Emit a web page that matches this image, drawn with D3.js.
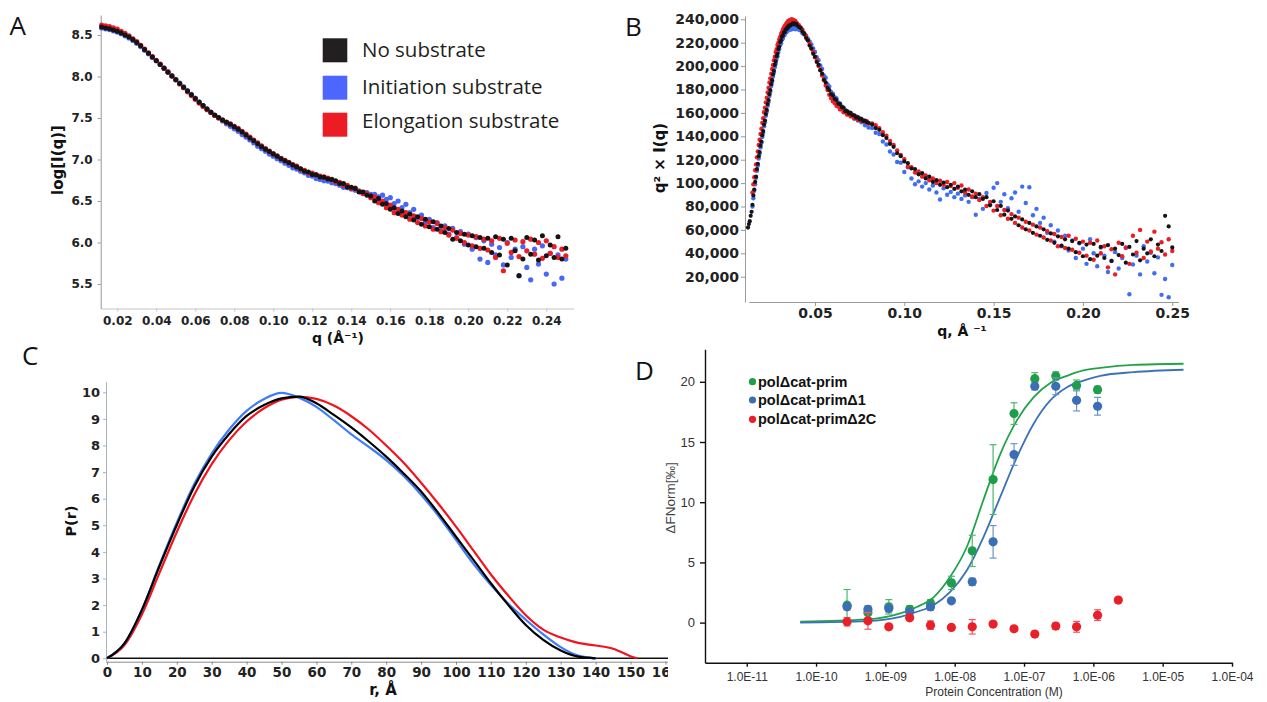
<!DOCTYPE html>
<html>
<head>
<meta charset="utf-8">
<script src="https://cdn.jsdelivr.net/npm/d3@7"></script>
<style>
  body { margin: 0; background: #fff; }
  svg { display: block; }
</style>
</head>
<body>
<svg id="fig" width="1267" height="702"></svg>
<script>
// ---------- Panel A: log[I(q)] vs q ----------
const qA = [
  0.012,0.014,0.016,0.018,0.020,0.022,0.024,0.026,0.028,0.030,
  0.032,0.034,0.036,0.038,0.040,0.042,0.044,0.046,0.048,0.050,
  0.052,0.054,0.056,0.058,0.060,0.062,0.064,0.066,0.068,0.070,
  0.072,0.074,0.076,0.078,0.080,0.082,0.084,0.086,0.088,0.090,
  0.092,0.094,0.096,0.098,0.100,0.102,0.104,0.106,0.108,0.110,
  0.112,0.114,0.116,0.118,0.120,0.122,0.124,0.126,0.128,0.130,
  0.132,0.134,0.136,0.138,0.140,0.142,0.144,0.146,0.148,0.150,
  0.152,0.154,0.156,0.158,0.160,0.162,0.164,0.166,0.168,0.170,
  0.172,0.174,0.176,0.178,0.180,0.182,0.184,0.186,0.188,0.190,
  0.192,0.194,0.196,0.198,0.200,0.202,0.204,0.206,0.208,0.210,
  0.212,0.214,0.216,0.218,0.220,0.222,0.224,0.226,0.228,0.230,
  0.232,0.234,0.236,0.238,0.240,0.242,0.244,0.246,0.248,0.250
];
const logINone = [
  8.595,8.585,8.575,8.56,8.545,8.525,8.50,8.475,8.445,8.41,
  8.37,8.325,8.28,8.235,8.19,8.145,8.10,8.05,8.005,7.96,
  7.915,7.87,7.825,7.78,7.735,7.69,7.65,7.61,7.57,7.535,
  7.505,7.475,7.45,7.425,7.395,7.365,7.33,7.295,7.26,7.225,
  7.19,7.155,7.125,7.095,7.065,7.04,7.01,6.985,6.96,6.935,
  6.91,6.89,6.86,6.85,6.82,6.815,6.79,6.785,6.765,6.76,
  6.745,6.71,6.71,6.67,6.665,6.65,6.61,6.61,6.57,6.56,
  6.50,6.53,6.46,6.47,6.40,6.42,6.35,6.38,6.31,6.34,
  6.27,6.31,6.22,6.28,6.19,6.25,6.16,6.20,6.12,6.17,
  6.04,6.12,6.02,6.10,5.97,6.08,5.95,6.06,5.93,6.05,
  5.88,6.07,5.85,6.04,5.73,6.05,5.90,5.60,5.80,6.06,
  5.86,6.03,5.79,6.08,5.84,5.97,5.82,6.07,5.80,5.93
];
const logIInit = [
  8.585,8.575,8.565,8.55,8.535,8.515,8.49,8.465,8.435,8.40,
  8.36,8.315,8.275,8.23,8.19,8.145,8.10,8.055,8.01,7.965,
  7.92,7.875,7.83,7.785,7.74,7.695,7.65,7.61,7.57,7.53,
  7.50,7.465,7.43,7.40,7.37,7.34,7.30,7.27,7.235,7.20,
  7.16,7.13,7.10,7.065,7.04,7.01,6.985,6.955,6.93,6.90,
  6.885,6.86,6.84,6.81,6.80,6.77,6.76,6.745,6.74,6.72,
  6.71,6.69,6.665,6.66,6.645,6.63,6.62,6.60,6.60,6.58,
  6.58,6.55,6.57,6.52,6.54,6.47,6.50,6.42,6.46,6.36,
  6.40,6.30,6.33,6.25,6.28,6.18,6.24,6.14,6.20,6.10,
  6.17,6.06,6.13,5.98,6.10,5.92,6.06,5.80,6.02,5.76,
  5.98,5.85,5.94,5.73,6.00,5.82,5.92,5.60,5.95,5.70,
  5.55,5.92,5.74,5.96,5.62,5.87,5.50,5.85,5.57,5.80
];
const logIElong = [
  8.62,8.61,8.60,8.585,8.57,8.545,8.52,8.49,8.455,8.42,
  8.375,8.33,8.285,8.24,8.195,8.15,8.10,8.055,8.005,7.96,
  7.91,7.865,7.815,7.77,7.725,7.68,7.64,7.60,7.565,7.53,
  7.50,7.475,7.45,7.43,7.40,7.375,7.34,7.305,7.27,7.235,
  7.20,7.165,7.13,7.10,7.07,7.045,7.015,6.99,6.965,6.94,
  6.92,6.885,6.87,6.84,6.835,6.815,6.80,6.79,6.775,6.76,
  6.73,6.725,6.69,6.69,6.65,6.655,6.62,6.59,6.59,6.54,
  6.55,6.48,6.50,6.42,6.45,6.36,6.40,6.33,6.36,6.28,
  6.32,6.24,6.29,6.20,6.25,6.16,6.23,6.13,6.18,6.09,
  6.15,6.05,6.11,6.00,6.09,5.96,6.07,5.93,6.04,5.91,
  6.02,5.82,6.05,5.66,5.99,5.88,6.03,5.83,6.01,5.90,
  6.04,5.86,6.00,5.81,6.02,5.87,5.95,5.82,5.92,5.84
];
const ticksAx = [0.02,0.04,0.06,0.08,0.10,0.12,0.14,0.16,0.18,0.20,0.22,0.24];
const ticksAy = [5.5,6.0,6.5,7.0,7.5,8.0,8.5];
const legendA = ["No substrate", "Initiation substrate", "Elongation substrate"];

// ---------- Panel B: Kratky plot, q² × I(q) (values in thousands) ----------
const qB = [
  0.0125,0.0130,0.0135,0.0140,0.0145,0.0150,0.0155,0.0160,0.0165,0.0170,
  0.0175,0.0180,0.0185,0.0190,0.0195,0.0200,0.0205,0.0210,0.0215,0.0220,
  0.0225,0.0230,0.0235,0.0240,0.0245,0.0250,0.0255,0.0260,0.0265,0.0270,
  0.0275,0.0280,0.0285,0.0290,0.0295,0.0300,0.0305,0.0310,0.0315,0.0320,
  0.0325,0.0330,0.0335,0.0340,0.0345,0.0350,0.0355,0.0360,0.0365,0.0370,
  0.0375,0.0380,0.0385,0.0390,0.0395,0.0400,
  0.041,0.042,0.043,0.044,0.045,0.046,0.047,0.048,0.049,0.050,
  0.051,0.052,0.053,0.054,0.055,0.056,0.057,0.058,0.059,0.060,
  0.061,0.062,0.063,0.064,0.065,0.066,0.067,0.068,0.069,0.070,
  0.071,0.072,0.073,0.074,0.075,0.076,0.077,0.078,0.079,0.080,
  0.082,0.084,0.086,0.088,0.090,0.092,0.094,0.096,0.098,0.100,
  0.102,0.104,0.106,0.108,0.110,0.112,0.114,0.116,0.118,0.120,
  0.122,0.124,0.126,0.128,0.130,0.132,0.134,0.136,0.138,0.140,
  0.142,0.144,0.146,0.148,0.150,0.152,0.154,0.156,0.158,0.160,
  0.162,0.164,0.166,0.168,0.170,0.172,0.174,0.176,0.178,0.180,
  0.182,0.184,0.186,0.188,0.190,0.192,0.194,0.196,0.198,0.200,
  0.202,0.204,0.206,0.208,0.210,0.212,0.214,0.216,0.218,0.220,
  0.222,0.224,0.226,0.228,0.230,0.232,0.234,0.236,0.238,0.240,
  0.242,0.244,0.246,0.248,0.250
];
const kratkyNone = [
  62.0,65.0,67.5,72.0,75.5,81.5,89.5,94.5,101.0,105.5,
  112.0,116.5,123.0,126.5,132.0,135.5,141.0,144.5,150.0,153.5,
  159.0,162.5,167.5,171.0,176.0,179.5,184.5,188.0,193.0,196.0,
  201.0,204.0,208.5,210.5,214.5,216.5,220.5,222.0,225.0,226.0,
  228.5,229.0,231.0,231.5,233.0,233.0,234.5,234.5,235.5,235.5,
  236.5,235.8,236.5,235.6,236.0,234.8,
  233.5,232.5,229.5,227.5,224.0,222.0,217.5,215.0,210.5,208.0,
  203.5,201.0,196.5,193.5,188.5,186.0,181.5,179.5,176.0,175.0,
  172.0,171.0,168.0,167.5,165.0,164.5,161.5,161.5,159.5,160.0,
  158.0,158.0,156.0,156.5,154.5,155.0,153.0,153.5,152.0,151.5,
  150.0,147.0,145.5,141.0,138.5,133.5,131.0,125.5,123.0,118.5,
  117.0,112.5,112.0,107.5,108.5,104.0,105.5,101.0,102.5,98.5,
  100.5,96.5,98.5,95.0,97.0,93.0,94.5,90.0,93.0,88.0,
  90.5,86.5,88.0,81.0,84.5,77.0,80.5,73.0,76.5,69.5,
  71.5,64.0,69.0,60.5,66.0,57.5,63.0,55.0,60.5,51.5,
  57.0,49.0,54.5,46.5,52.0,44.0,50.5,41.0,49.0,37.5,
  47.5,35.0,48.0,38.0,45.5,36.0,47.0,33.5,44.0,38.5,
  48.0,32.0,45.5,39.0,50.5,34.0,44.0,40.0,52.0,37.5,
  47.5,42.0,72.0,63.0,45.0
];
const kratkyInit = [
  null,null,null,null,null,80.0,87.0,93.5,99.0,104.5,
  110.5,115.0,121.0,125.0,130.5,134.5,139.5,143.0,148.5,152.0,
  157.5,161.0,166.0,169.5,174.5,178.0,183.0,186.5,191.0,194.5,
  199.0,202.0,206.0,208.5,212.0,214.5,218.0,219.5,222.5,223.5,
  226.0,226.5,228.5,229.0,230.5,230.5,232.0,231.0,233.0,231.5,
  234.0,232.0,238.5,231.5,234.0,232.5,
  231.0,230.5,228.0,227.0,226.0,223.5,221.0,218.5,215.0,212.0,
  207.5,205.0,200.5,197.5,192.0,190.0,184.5,182.5,178.0,176.5,
  173.5,172.5,169.0,168.0,165.5,163.5,162.5,160.0,160.5,157.5,
  158.5,155.0,157.0,153.5,155.5,152.0,153.0,149.5,152.0,147.5,
  147.0,143.0,142.0,135.5,133.0,127.0,124.5,118.0,117.5,109.5,
  113.5,104.0,99.0,101.5,97.0,100.0,94.5,98.0,92.0,86.0,
  95.5,90.0,92.5,88.0,91.0,86.5,89.5,84.0,88.0,73.0,
  86.5,78.0,91.5,82.0,96.0,100.0,84.0,90.5,78.5,87.0,
  92.0,75.5,97.0,83.0,96.5,72.5,78.0,66.0,70.5,57.5,
  64.0,50.0,59.5,46.0,55.0,42.5,51.0,36.0,48.5,44.0,
  31.0,52.0,40.0,29.0,45.0,38.0,24.0,33.5,41.0,27.0,
  36.0,44.5,5.0,30.5,38.0,22.0,46.0,33.0,40.5,23.0,
  36.5,4.5,18.0,2.5,30.0
];
const kratkyElong = [
  null,null,null,null,null,92.0,99.0,105.0,111.0,116.0,
  122.0,127.0,132.5,137.0,142.0,146.5,151.5,155.5,160.5,164.5,
  169.0,173.0,177.5,181.5,186.0,189.5,193.5,197.5,201.0,205.0,
  208.0,212.0,214.5,218.0,220.0,223.0,225.0,227.5,229.0,231.0,
  232.5,234.0,235.0,236.5,237.0,238.5,238.5,239.5,239.5,240.0,
  239.0,239.5,238.5,238.5,237.0,236.5,
  235.0,233.0,231.0,228.0,225.5,222.0,219.0,215.0,212.0,207.5,
  204.5,200.0,196.5,192.0,188.0,183.5,179.5,175.5,172.5,170.0,
  168.5,166.0,165.5,163.0,163.0,160.5,160.5,158.5,159.0,157.0,
  157.5,155.5,156.0,154.0,154.5,153.0,153.5,152.5,153.0,151.0,
  151.0,149.5,147.0,143.5,140.5,136.0,132.5,128.0,124.0,120.5,
  114.0,113.5,109.0,110.0,105.5,106.5,102.5,104.0,100.0,102.0,
  98.5,101.0,97.5,100.0,96.0,98.0,92.0,94.5,88.5,91.0,
  85.5,88.0,80.5,84.0,76.5,80.5,72.5,77.0,69.5,73.5,
  66.0,70.5,62.0,67.0,59.5,64.5,56.0,62.0,53.5,59.0,
  51.0,56.5,46.0,54.0,44.5,55.0,43.0,52.5,40.5,50.0,
  38.0,49.0,34.5,51.0,40.0,46.0,28.0,43.5,22.0,49.0,
  37.5,45.0,31.0,55.0,40.5,60.0,36.0,50.0,41.5,58.5,
  44.0,49.5,39.0,52.0,42.0
];
const ticksBx = [0.05,0.10,0.15,0.20,0.25];
const ticksBy = [20,40,60,80,100,120,140,160,180,200,220,240];

// ---------- Panel C: P(r) distance distribution ----------
const rC = [0,5,10,15,20,25,30,35,40,45,50,55,60,65,70,75,80,85,90,95,100,105,110,115,120,125,130,135,140,145,150,152];
const prNone = [0,0.56,1.82,3.45,5.01,6.45,7.58,8.43,9.11,9.52,9.77,9.84,9.59,9.15,8.68,8.15,7.58,6.95,6.27,5.45,4.57,3.70,2.82,2.0,1.25,0.69,0.29,0.06,0,null,null,null];
const prInit = [0,0.56,1.82,3.5,5.1,6.55,7.7,8.6,9.3,9.75,9.98,9.8,9.45,8.95,8.42,7.95,7.45,6.85,6.15,5.35,4.45,3.55,2.75,2.05,1.45,0.9,0.42,0.1,0,null,null,null];
const prElong = [0,0.5,1.65,3.2,4.75,6.15,7.3,8.2,8.9,9.4,9.72,9.83,9.75,9.5,9.1,8.6,8.0,7.35,6.6,5.8,4.95,4.05,3.15,2.35,1.62,1.08,0.78,0.58,0.48,0.36,0.08,0];
const ticksCx = [0,10,20,30,40,50,60,70,80,90,100,110,120,130,140,150,160];
const ticksCy = [0,1,2,3,4,5,6,7,8,9,10];

// ---------- Panel D: MST binding ----------
const concD = [2.8e-10,5.6e-10,1.12e-9,2.24e-9,4.48e-9,8.96e-9,1.79e-8,3.58e-8,7.17e-8,1.43e-7,2.87e-7,5.73e-7,1.15e-6,2.29e-6];
const primVal = [1.45,0.82,1.31,1.1,1.6,3.3,5.96,11.88,17.36,20.26,20.48,19.7,19.35,null];
const primErr = [1.3,0.45,0.6,0.3,0.3,0.55,1.3,2.9,0.9,0.5,0.35,0.45,0.28,null];
const d1Val = [1.31,1.1,1.18,0.9,1.31,1.81,3.39,6.71,13.96,19.63,19.63,18.46,17.97,null];
const d1Err = [0.25,0.3,0.3,0.25,0.3,0.15,0.3,1.35,0.9,0.3,0.7,0.88,0.74,null];
const d2cVal = [0.07,0.15,-0.35,0.4,-0.21,-0.4,-0.35,-0.12,-0.51,-0.95,-0.29,-0.35,0.62,1.87];
const d2cErr = [0.35,0.7,0.15,0.2,0.35,0.15,0.6,0.2,0.15,0.2,0.25,0.45,0.45,0.2];
const fitConc = [5.9e-11,5.4e-10,1.64e-9,2.85e-9,4.95e-9,8.6e-9,1.5e-8,2.6e-8,4.54e-8,7.9e-8,1.37e-7,2.39e-7,4.16e-7,7.2e-7,1.26e-6,3.8e-6,2.0e-5];
const fitPrim = [0.07,0.26,0.76,1.3,2.1,3.8,6.3,10.2,14.0,16.8,18.7,19.9,20.5,20.95,21.15,21.4,21.5];
const fitD1 = [0.0,0.12,0.48,0.9,1.45,2.55,4.35,7.1,10.45,13.75,16.5,18.45,19.55,20.1,20.5,20.8,21.0];
const ticksDx = [1e-11,1e-10,1e-9,1e-8,1e-7,1e-6,1e-5,1e-4];
const ticksDy = [0,5,10,15,20];
const legendD = ["polΔcat-prim", "polΔcat-primΔ1", "polΔcat-primΔ2C"];

// ---------- shared helpers ----------
const BOLD = "'DejaVu Sans', sans-serif";
const ARIAL = "'Liberation Sans', Arial, sans-serif";
const LETTER = "'Open Sans', sans-serif";

const svg = d3.select("#fig");

function styleAxis(g, o) {
  g.select(".domain").attr("stroke", o.line).attr("stroke-width", o.width || 1);
  g.selectAll(".tick line").attr("stroke", o.line).attr("stroke-width", o.width || 1);
  g.selectAll(".tick text")
    .attr("font-family", o.font)
    .attr("font-size", o.size)
    .attr("font-weight", o.weight || "normal")
    .attr("fill", o.color || "#222");
}

function panelLetter(txt, x, y) {
  svg.append("text").attr("x", x).attr("y", y)
    .attr("font-family", LETTER).attr("font-size", 26).attr("fill", "#111")
    .text(txt);
}

function scatter(g, qs, vals, x, y, color, r) {
  const pts = qs.map((q, i) => ({q: q, v: vals[i]})).filter(d => d.v != null);
  g.append("g").selectAll("circle").data(pts).enter().append("circle")
    .attr("cx", d => x(d.q)).attr("cy", d => y(d.v))
    .attr("r", r).attr("fill", color);
}

// ================= Panel A =================
const xA = d3.scaleLinear().domain([0.0115, 0.254]).range([100.7, 573.6]);
const yA = d3.scaleLinear().domain([5.205, 8.741]).range([308.5, 15]);
const gA = svg.append("g");

const axA = gA.append("g").attr("transform", "translate(0,308.5)")
  .call(d3.axisBottom(xA).tickValues(ticksAx).tickFormat(d3.format(".2f")).tickSize(3).tickSizeOuter(0).tickPadding(5));
styleAxis(axA, {line: "#c4c4c4", font: BOLD, size: 12, weight: "bold"});
const ayA = gA.append("g").attr("transform", "translate(100.7,0)")
  .call(d3.axisLeft(yA).tickValues(ticksAy).tickFormat(d3.format(".1f")).tickSize(3).tickSizeOuter(0).tickPadding(5));
styleAxis(ayA, {line: "#999", font: BOLD, size: 12, weight: "bold"});

scatter(gA, qA, logIInit, xA, yA, "#4866f7", 2.6);
scatter(gA, qA, logIElong, xA, yA, "#ee1c24", 2.6);
scatter(gA, qA, logINone, xA, yA, "#141414", 2.5);

gA.append("text").attr("x", 338).attr("y", 343).attr("text-anchor", "middle")
  .attr("font-family", BOLD).attr("font-weight", "bold").attr("font-size", 14).attr("fill", "#111")
  .text("q (Å⁻¹)");
gA.append("text").attr("transform", "translate(63,160) rotate(-90)").attr("text-anchor", "middle")
  .attr("font-family", BOLD).attr("font-weight", "bold").attr("font-size", 15).attr("fill", "#111")
  .text("log[I(q)]");

const legColors = ["#231f20", "#4c66ff", "#ed1c24"];
const legTop = [38.3, 75.7, 112.7];
const legBase = [56.7, 94, 128.3];
legendA.forEach((name, i) => {
  gA.append("rect").attr("x", 322.7).attr("y", legTop[i]).attr("width", 24.6).attr("height", 24)
    .attr("fill", legColors[i]);
  gA.append("text").attr("x", 362).attr("y", legBase[i])
    .attr("font-family", LETTER).attr("font-size", 20.5).attr("fill", "#231f20")
    .text(name);
});

// ================= Panel B =================
const xB = d3.scaleLinear().domain([0.013, 0.2535]).range([748.9, 1178.5]);
const yB = d3.scaleLinear().domain([-1.6, 242.8]).range([302, 16]);
const gB = svg.append("g");

const axB = gB.append("g").attr("transform", "translate(0,302)")
  .call(d3.axisBottom(xB).tickValues(ticksBx).tickFormat(d3.format(".2f")).tickSize(4).tickSizeOuter(0).tickPadding(2));
styleAxis(axB, {line: "#999", font: BOLD, size: 14, weight: "bold"});
const ayB = gB.append("g").attr("transform", "translate(745,0)")
  .call(d3.axisLeft(yB).tickValues(ticksBy).tickFormat(d => d3.format(",")(d * 1000)).tickSize(4).tickSizeOuter(0).tickPadding(2));
styleAxis(ayB, {line: "#999", font: BOLD, size: 14, weight: "bold"});

scatter(gB, qB, kratkyInit, xB, yB, "#3f6ff0", 2.2);
scatter(gB, qB, kratkyElong, xB, yB, "#ee1c24", 2.2);
scatter(gB, qB, kratkyNone, xB, yB, "#141414", 2.1);

gB.append("text").attr("x", 962).attr("y", 336).attr("text-anchor", "middle")
  .attr("font-family", BOLD).attr("font-weight", "bold").attr("font-size", 14).attr("fill", "#111")
  .text("q, Å ⁻¹");
gB.append("text").attr("transform", "translate(665,158) rotate(-90)").attr("text-anchor", "middle")
  .attr("font-family", BOLD).attr("font-weight", "bold").attr("font-size", 15).attr("fill", "#111")
  .text("q² × I(q)");

// ================= Panel C =================
svg.append("defs").append("clipPath").attr("id", "clipC")
  .append("rect").attr("x", 0).attr("y", 340).attr("width", 668).attr("height", 362);
const xC = d3.scaleLinear().domain([-0.287, 160.74]).range([106, 668]);
const yC = d3.scaleLinear().domain([-0.128, 10.398]).range([661.7, 381.7]);
const gC = svg.append("g").attr("clip-path", "url(#clipC)");

const axC = gC.append("g").attr("transform", "translate(0,661.7)")
  .call(d3.axisBottom(xC).tickValues(ticksCx).tickSize(3).tickSizeOuter(0).tickPadding(3));
styleAxis(axC, {line: "#8a8a8a", font: BOLD, size: 13.5, weight: "bold"});
const ayC = gC.append("g").attr("transform", "translate(106,0)")
  .call(d3.axisLeft(yC).tickValues(ticksCy).tickSize(3).tickSizeOuter(0).tickPadding(3));
styleAxis(ayC, {line: "#a9b3c0", font: BOLD, size: 13, weight: "bold"});

gC.append("line").attr("x1", xC(0)).attr("x2", 668).attr("y1", yC(0)).attr("y2", yC(0))
  .attr("stroke", "#111").attr("stroke-width", 1.5);

const lineC = d3.line().defined(d => d.v != null).x(d => xC(d.r)).y(d => yC(d.v)).curve(d3.curveMonotoneX);
[[prElong, "#f0141e"], [prInit, "#3f7cf7"], [prNone, "#000"]].forEach(([vals, col]) => {
  gC.append("path").datum(rC.map((r, i) => ({r: r, v: vals[i]})))
    .attr("d", lineC).attr("fill", "none").attr("stroke", col).attr("stroke-width", 2.2);
});

gC.append("text").attr("x", 383).attr("y", 695).attr("text-anchor", "middle")
  .attr("font-family", BOLD).attr("font-weight", "bold").attr("font-size", 15).attr("fill", "#111")
  .text("r, Å");
gC.append("text").attr("transform", "translate(76,521) rotate(-90)").attr("text-anchor", "middle")
  .attr("font-family", BOLD).attr("font-weight", "bold").attr("font-size", 14.5).attr("fill", "#111")
  .text("P(r)");

// ================= Panel D =================
const xD = d3.scaleLog().domain([2.5e-12, 1e-4]).range([705, 1232]);
const yD = d3.scaleLinear().domain([-3.33, 22.7]).range([662.7, 349.3]);
const gD = svg.append("g");

const expFmt = d => "1.0E-" + String(Math.round(-Math.log10(d))).padStart(2, "0");
const axD = gD.append("g").attr("transform", "translate(0,662.7)")
  .call(d3.axisBottom(xD).tickValues(ticksDx).tickFormat(expFmt).tickSize(4).tickSizeOuter(0).tickPadding(6));
styleAxis(axD, {line: "#111", width: 1.4, font: ARIAL, size: 12, color: "#333"});
const ayD = gD.append("g").attr("transform", "translate(705,0)")
  .call(d3.axisLeft(yD).tickValues(ticksDy).tickSize(5).tickSizeOuter(0).tickPadding(5));
styleAxis(ayD, {line: "#111", width: 1.4, font: ARIAL, size: 13, color: "#333"});

const lineD = d3.line().x(d => xD(d.c)).y(d => yD(d.v)).curve(d3.curveMonotoneX);
[[fitPrim, "#22a34b"], [fitD1, "#3c72b8"]].forEach(([vals, col]) => {
  gD.append("path").datum(fitConc.map((c, i) => ({c: c, v: vals[i]})))
    .attr("d", lineD).attr("fill", "none").attr("stroke", col).attr("stroke-width", 1.8);
});

const seriesD = [
  {vals: primVal, errs: primErr, color: "#1e9e4a", bar: "#4fb56f"},
  {vals: d1Val, errs: d1Err, color: "#3b6eb4", bar: "#6d93c9"},
  {vals: d2cVal, errs: d2cErr, color: "#e8202a", bar: "#ee5a60"}
];
seriesD.forEach(s => {
  const pts = concD.map((c, i) => ({c: c, v: s.vals[i], e: s.errs[i]})).filter(d => d.v != null);
  const eb = gD.append("g").attr("stroke", s.bar).attr("stroke-width", 1.2);
  pts.forEach(d => {
    const x = xD(d.c), y0 = yD(d.v - d.e), y1 = yD(d.v + d.e);
    eb.append("line").attr("x1", x).attr("x2", x).attr("y1", y0).attr("y2", y1);
    eb.append("line").attr("x1", x - 3.5).attr("x2", x + 3.5).attr("y1", y0).attr("y2", y0);
    eb.append("line").attr("x1", x - 3.5).attr("x2", x + 3.5).attr("y1", y1).attr("y2", y1);
  });
  gD.append("g").selectAll("circle").data(pts).enter().append("circle")
    .attr("cx", d => xD(d.c)).attr("cy", d => yD(d.v)).attr("r", 4.6).attr("fill", s.color);
});

const legDY = [381.7, 400, 419.3];
legendD.forEach((name, i) => {
  gD.append("circle").attr("cx", 752.5).attr("cy", legDY[i]).attr("r", 3.6).attr("fill", seriesD[i].color);
  gD.append("text").attr("x", 758).attr("y", legDY[i] + 5)
    .attr("font-family", ARIAL).attr("font-weight", "bold").attr("font-size", 14.5).attr("fill", "#111")
    .text(name);
});

gD.append("text").attr("x", 994).attr("y", 696).attr("text-anchor", "middle")
  .attr("font-family", ARIAL).attr("font-size", 12).attr("fill", "#333")
  .text("Protein Concentration (M)");
gD.append("text").attr("transform", "translate(675,498) rotate(-90)").attr("text-anchor", "middle")
  .attr("font-family", ARIAL).attr("font-size", 13.5).attr("fill", "#444")
  .text("ΔFNorm[‰]");

// ---------- panel letters ----------
panelLetter("A", 9.5, 35);
panelLetter("B", 625, 36);
panelLetter("C", 22, 365);
panelLetter("D", 635, 380);
</script>
</body>
</html>
